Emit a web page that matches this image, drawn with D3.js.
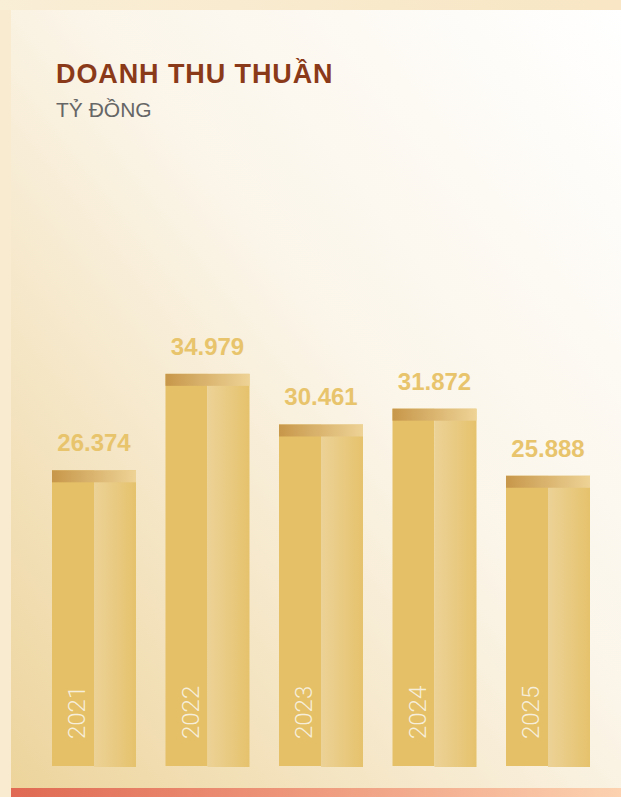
<!DOCTYPE html>
<html><head><meta charset="utf-8">
<script src="https://cdn.jsdelivr.net/npm/d3@7"></script>
<style>html,body{margin:0;padding:0;background:#f8ebd0;}svg{display:block;}</style>
</head><body>
<svg id="c" width="621" height="797"></svg>
<script>
const years = ["2021","2022","2023","2024","2025"];
const revenue = [26374, 34979, 30461, 31872, 25888];
const title = "DOANH THU THUẦN";
const unit = "TỶ ĐỒNG";

const W = 621, H = 797;
const svg = d3.select("#c");
const defs = svg.append("defs");

const bg = defs.append("linearGradient").attr("id","bg").attr("x1","100%").attr("y1","0%").attr("x2","0%").attr("y2","100%");
bg.append("stop").attr("offset","0%").attr("stop-color","#ffffff");
bg.append("stop").attr("offset","45%").attr("stop-color","#fbf5e9");
bg.append("stop").attr("offset","100%").attr("stop-color","#edd49c");

const outer = defs.append("linearGradient").attr("id","outer").attr("x1","0%").attr("x2","100%");
outer.append("stop").attr("offset","0%").attr("stop-color","#f9eed6");
outer.append("stop").attr("offset","100%").attr("stop-color","#f8e6c4");

const red = defs.append("linearGradient").attr("id","red").attr("x1","0%").attr("x2","100%");
red.append("stop").attr("offset","0%").attr("stop-color","#e06953");
red.append("stop").attr("offset","50%").attr("stop-color","#ef9a7e");
red.append("stop").attr("offset","100%").attr("stop-color","#fcd2b0");

const rh = defs.append("linearGradient").attr("id","rh").attr("x1","0%").attr("x2","100%");
rh.append("stop").attr("offset","0%").attr("stop-color","#ecd297");
rh.append("stop").attr("offset","100%").attr("stop-color","#e5c26c");

const cap = defs.append("linearGradient").attr("id","cap").attr("x1","0%").attr("x2","100%");
cap.append("stop").attr("offset","0%").attr("stop-color","#c7974a");
cap.append("stop").attr("offset","100%").attr("stop-color","#eed396");

// backgrounds
svg.append("rect").attr("x",0).attr("y",0).attr("width",W).attr("height",H).attr("fill","url(#outer)");
svg.append("rect").attr("x",0).attr("y",10).attr("width",11).attr("height",H).attr("fill","#f8ebd0");
svg.append("rect").attr("x",11).attr("y",10).attr("width",W-11).attr("height",778).attr("fill","url(#bg)");
svg.append("rect").attr("x",11).attr("y",788).attr("width",W-11).attr("height",9).attr("fill","url(#red)");

// title
svg.append("text").attr("x",56).attr("y",83).text(title)
  .attr("font-family","'Liberation Sans', Arial, sans-serif").attr("font-weight",700)
  .attr("font-size",27).attr("fill","#8b3a19").attr("letter-spacing",0.9);
svg.append("text").attr("x",56).attr("y",117).text(unit)
  .attr("font-family","'Liberation Sans', Arial, sans-serif").attr("font-weight",400)
  .attr("font-size",21).attr("fill","#666666");

// scales
const y = d3.scaleLinear().domain([0, 35000]).range([766, 373.6]);
const bw = 84;
const xpos = d3.scalePoint().domain(years).range([52, 590 - bw]);

const fmt = v => d3.format(",")(v).replace(/,/g, ".");
const data = years.map((yr,i)=>({yr, v: revenue[i]}));

const bar = svg.append("g").selectAll("g.bar").data(data).join("g").attr("class","bar")
  .attr("transform", d => `translate(${xpos(d.yr)},0)`);

bar.append("rect").attr("x",0).attr("y",d=>y(d.v)).attr("width",bw/2).attr("height",d=>766-y(d.v)).attr("fill","#e5c066");
bar.append("rect").attr("x",bw/2).attr("y",d=>y(d.v)).attr("width",bw/2).attr("height",d=>767-y(d.v)).attr("fill","url(#rh)");
bar.append("rect").attr("x",0).attr("y",d=>y(d.v)).attr("width",bw).attr("height",12).attr("fill","url(#cap)");

bar.append("text").attr("x",bw/2).attr("y",d=>y(d.v)-19).attr("text-anchor","middle")
  .text(d=>fmt(d.v))
  .attr("font-family","'Liberation Sans', Arial, sans-serif").attr("font-weight",700)
  .attr("font-size",24).attr("fill","#e8c46c");

bar.append("text").attr("transform","translate(33,739) rotate(-90)")
  .text(d=>d.yr)
  .attr("font-family","Roboto, 'Noto Sans', sans-serif").attr("font-weight",300)
  .attr("font-size",24).attr("fill","#f6eedb");
</script>
</body></html>
